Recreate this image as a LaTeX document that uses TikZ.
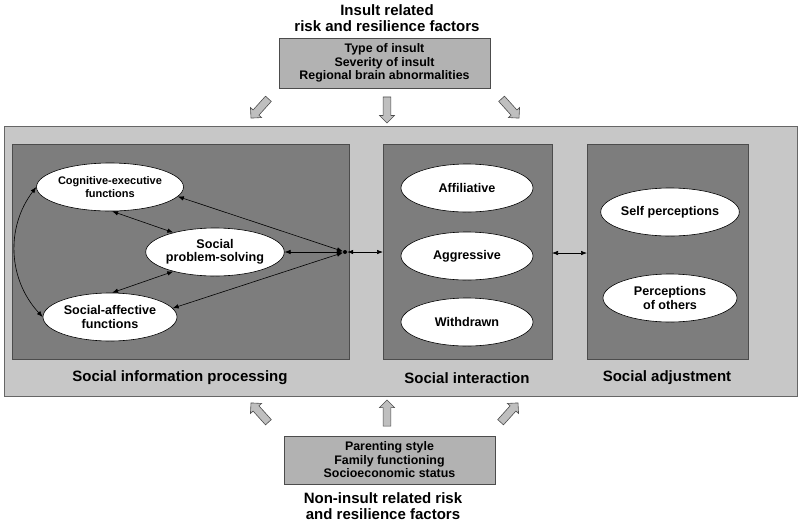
\documentclass[tikz,border=0pt]{standalone}
\usepackage{fontspec}
\setmainfont{Liberation Sans}
\usetikzlibrary{shapes.geometric,shapes.arrows,arrows.meta}
\definecolor{outerbg}{gray}{0.78}
\definecolor{darkbg}{gray}{0.49}
\definecolor{factorbg}{gray}{0.70}
\definecolor{blockarrow}{gray}{0.75}
\tikzset{
  ell/.style={ellipse,draw=black,line width=0.6pt,fill=white,minimum width=134pt,minimum height=48pt,inner sep=0pt,align=center,font=\fontsize{12.6}{13.5}\selectfont\bfseries},
  panel/.style={draw=black!70,line width=0.6pt,fill=darkbg},
  lbl/.style={font=\fontsize{15}{15.5}\selectfont\bfseries,align=center},
  factor/.style={draw=black!70,line width=0.6pt,fill=factorbg,align=center,font=\fontsize{12.4}{13.5}\selectfont\bfseries,inner sep=0pt},
  barrow/.style={single arrow,draw=black!70,line width=0.6pt,fill=blockarrow,minimum height=26pt,minimum width=15pt,single arrow head extend=3.5pt,inner xsep=0pt,inner ysep=3.5pt},
  conn/.style={line width=0.6pt,{Latex[length=6pt,width=4.5pt]}-{Latex[length=6pt,width=4.5pt]}}
}
\begin{document}
\begin{tikzpicture}[x=1pt,y=-1pt]
\useasboundingbox (0,0) rectangle (800,523);
% outer panel
\draw[draw=black!60,line width=0.8pt,fill=outerbg] (4,126) rectangle (797,396);
\draw[panel] (12,144) rectangle (349,359);
\draw[panel] (383,144) rectangle (552,359);
\draw[panel] (587,144) rectangle (748,359);
\node[lbl] (sipl) at (180,378) {Social information processing};
\node[lbl] (sil) at (467,378) {Social interaction};
\node[lbl] (sal) at (667,378) {Social adjustment};
% left ellipses
\node[ell,font=\fontsize{11}{13.5}\selectfont\bfseries] (cog) at (110,187) {Cognitive-executive\\functions};
\node[ell] (sps) at (215,252) {Social\\problem-solving};
\node[ell] (saf) at (110,317) {Social-affective\\functions};
\node[circle,fill=black,inner sep=0pt,minimum size=4pt] (j) at (345,252) {};
\draw[conn] (j) -- (cog.-8);
\draw[conn] (j) -- (sps.east);
\draw[conn] (j) -- (saf.8);
\draw[conn] (cog.-85) -- (sps.155);
\draw[conn] (saf.85) -- (sps.-155);
\draw[conn] (cog.west) to[bend right=40] (saf.west);
% middle
\node[ell,minimum width=132pt] (aff) at (467,188) {Affiliative};
\node[ell,minimum width=132pt] (agg) at (467,256) {Aggressive};
\node[ell,minimum width=132pt] (wit) at (467,322) {Withdrawn};
\coordinate (mL) at (383,252);
\coordinate (mR) at (552,253);
\coordinate (rL) at (587,253);
\draw[conn] (j) -- (mL);
\draw[conn] (mR) -- (rL);
% right
\node[ell] (self) at (670,212) {Self perceptions};
\node[ell] (others) at (670,298) {Perceptions\\of others};
% top factors
\node[lbl] (toplbl) at (387,18) {Insult related\\risk and resilience factors};
\node[factor,minimum width=211pt,minimum height=50pt] (topbox) at (384.5,63) {Type of insult\\Severity of insult\\Regional brain abnormalities};
\node[barrow,rotate=-132] (ta1) at (261,107) {};
\node[barrow,rotate=-90] (ta2) at (387,108) {};
\node[barrow,rotate=-48] (ta3) at (509,107) {};
% bottom factors
\node[barrow,rotate=132] (ba1) at (261,414) {};
\node[barrow,rotate=90] (ba2) at (387,415) {};
\node[barrow,rotate=48] (ba3) at (508,414) {};
\node[factor,minimum width=211pt,minimum height=48pt] (botbox) at (389.5,460) {Parenting style\\Family functioning\\Socioeconomic status};
\node[lbl] (botlbl) at (383,506) {Non-insult related risk\\and resilience factors};
\end{tikzpicture}
\end{document}
